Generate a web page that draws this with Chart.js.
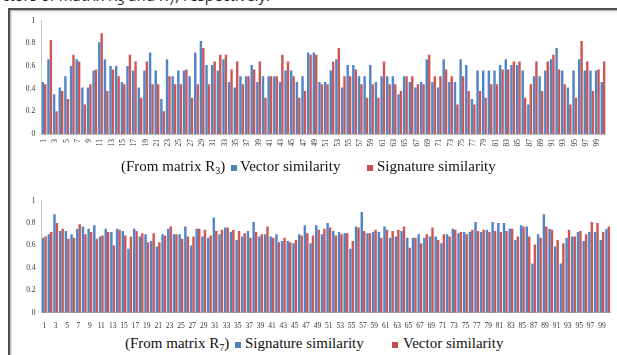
<!DOCTYPE html>
<html><head><meta charset="utf-8">
<script src="https://cdn.jsdelivr.net/npm/chart.js@4.4.0/dist/chart.umd.min.js"></script>
<style>
html,body{margin:0;padding:0;background:#fff;width:617px;height:355px;overflow:hidden;position:relative;}
#cut{position:absolute;left:2px;top:-15px;font:15px 'Open Sans',sans-serif;color:#222;white-space:nowrap;}
#frame{position:absolute;left:8px;top:8px;width:640px;height:400px;border-left:2px solid #4e4e4e;border-top:2px solid #4e4e4e;box-shadow:inset 1px 1px 2px rgba(0,0,0,0.35);background:transparent;}
.cw{position:absolute;left:0;width:617px;}
.lg{position:absolute;font:15px 'Liberation Serif',serif;line-height:15px;color:#111;white-space:nowrap;}
.sq{position:absolute;width:6px;height:6px;}
</style></head>
<body>
<div id="cut">ctors of matrix R<sub>3</sub> and R<sub>7</sub>, respectively.</div>
<div id="frame"></div>
<div class="cw" style="top:10px;height:150px;"><canvas id="c1" width="617" height="150"></canvas></div>
<div class="cw" style="top:185px;height:150px;"><canvas id="c2" width="617" height="150"></canvas></div>

<div class="lg" style="left:121px;top:159px;">(From matrix R<span style="font-size:10px;position:relative;top:3px;">3</span>)</div>
<div class="sq" style="left:231px;top:165px;background:#4f81bd;"></div>
<div class="lg" style="left:240px;top:159px;">Vector similarity</div>
<div class="sq" style="left:367px;top:165px;background:#c0504d;"></div>
<div class="lg" style="left:377px;top:159px;">Signature similarity</div>

<div class="lg" style="left:125px;top:336px;">(From matrix R<span style="font-size:10px;position:relative;top:3px;">7</span>)</div>
<div class="sq" style="left:235px;top:342px;background:#4f81bd;"></div>
<div class="lg" style="left:245px;top:336px;">Signature similarity</div>
<div class="sq" style="left:392px;top:342px;background:#c0504d;"></div>
<div class="lg" style="left:403px;top:336px;">Vector similarity</div>

<script>
const categories = Array.from({length:100}, (_, i) => String(i + 1));
const yTicks = [0, 0.2, 0.4, 0.6, 0.8, 1];

// Top chart (matrix R3)
const r3Vector = [0.46,0.66,0.35,0.41,0.51,0.60,0.66,0.41,0.41,0.56,
 0.81,0.66,0.60,0.60,0.46,0.60,0.56,0.41,0.56,0.72,
 0.56,0.31,0.66,0.51,0.56,0.56,0.51,0.72,0.82,0.61,
 0.61,0.56,0.66,0.46,0.41,0.51,0.51,0.61,0.46,0.51,
 0.51,0.51,0.46,0.56,0.56,0.46,0.51,0.72,0.72,0.46,
 0.46,0.56,0.66,0.41,0.61,0.61,0.51,0.51,0.61,0.46,
 0.51,0.51,0.51,0.35,0.51,0.46,0.41,0.46,0.66,0.46,
 0.41,0.66,0.46,0.46,0.66,0.61,0.31,0.56,0.56,0.56,
 0.56,0.61,0.66,0.61,0.61,0.56,0.26,0.51,0.51,0.56,
 0.66,0.76,0.56,0.41,0.56,0.66,0.56,0.56,0.56,0.46];
const r3Signature = [0.44,0.83,0.20,0.38,0.31,0.70,0.64,0.26,0.44,0.57,
 0.89,0.38,0.57,0.51,0.44,0.70,0.64,0.32,0.64,0.44,
 0.44,0.20,0.51,0.44,0.44,0.57,0.32,0.44,0.76,0.44,
 0.64,0.70,0.70,0.57,0.64,0.44,0.51,0.57,0.64,0.32,
 0.51,0.51,0.70,0.64,0.51,0.32,0.38,0.70,0.70,0.44,
 0.44,0.64,0.76,0.51,0.51,0.57,0.44,0.32,0.44,0.32,
 0.64,0.44,0.44,0.38,0.51,0.51,0.44,0.44,0.70,0.51,
 0.51,0.57,0.51,0.26,0.51,0.38,0.26,0.38,0.32,0.44,
 0.44,0.57,0.57,0.64,0.64,0.32,0.44,0.64,0.38,0.64,
 0.70,0.57,0.44,0.26,0.32,0.82,0.64,0.38,0.57,0.64];

// Bottom chart (matrix R7)
const r7Signature = [0.67,0.70,0.88,0.73,0.73,0.70,0.75,0.77,0.75,0.78,
 0.68,0.75,0.72,0.75,0.73,0.57,0.75,0.68,0.70,0.64,
 0.59,0.70,0.75,0.70,0.70,0.77,0.60,0.75,0.68,0.67,
 0.85,0.70,0.76,0.72,0.65,0.68,0.73,0.81,0.68,0.70,
 0.68,0.70,0.64,0.64,0.62,0.70,0.78,0.62,0.78,0.70,
 0.80,0.73,0.72,0.71,0.57,0.77,0.90,0.71,0.72,0.72,
 0.77,0.67,0.68,0.73,0.67,0.67,0.70,0.67,0.68,0.68,
 0.62,0.70,0.75,0.71,0.72,0.72,0.81,0.72,0.74,0.81,
 0.80,0.80,0.75,0.65,0.78,0.77,0.44,0.70,0.88,0.75,
 0.59,0.44,0.67,0.68,0.72,0.64,0.72,0.72,0.65,0.75];
const r7Vector = [0.68,0.72,0.80,0.75,0.66,0.67,0.79,0.70,0.72,0.66,
 0.69,0.72,0.60,0.74,0.69,0.68,0.73,0.71,0.63,0.71,
 0.63,0.69,0.77,0.70,0.66,0.68,0.68,0.75,0.74,0.69,
 0.73,0.74,0.76,0.74,0.73,0.71,0.67,0.72,0.70,0.77,
 0.67,0.63,0.67,0.63,0.65,0.69,0.71,0.69,0.74,0.75,
 0.76,0.69,0.70,0.71,0.64,0.76,0.73,0.71,0.74,0.67,
 0.74,0.73,0.74,0.77,0.58,0.67,0.62,0.70,0.76,0.65,
 0.70,0.68,0.74,0.72,0.70,0.74,0.73,0.74,0.72,0.73,
 0.72,0.73,0.75,0.68,0.77,0.68,0.61,0.67,0.77,0.74,
 0.65,0.62,0.74,0.68,0.73,0.70,0.81,0.80,0.72,0.77];

const BLUE = '#5285c5', RED = '#cd5753';
const tickFont = {family: "'Liberation Serif', serif", size: 7.5};

function makeChart(id, blueData, blueName, redData, redName, cfg) {
  new Chart(document.getElementById(id), {
    type: 'bar',
    data: {
      labels: categories,
      datasets: [
        {label: blueName, data: blueData, backgroundColor: BLUE, borderWidth: 0, categoryPercentage: 0.86, barPercentage: 1.0},
        {label: redName, data: redData, backgroundColor: RED, borderWidth: 0, categoryPercentage: 0.86, barPercentage: 1.0}
      ]
    },
    options: {
      responsive: false,
      animation: false,
      devicePixelRatio: 1,
      layout: {padding: {left: 0, right: cfg.padRight, top: cfg.padTop, bottom: 0}},
      plugins: {legend: {display: false}, tooltip: {enabled: false}},
      scales: {
        x: {
          grid: {display: false, drawTicks: false},
          border: {display: true, color: '#bfbfbf', width: 1},
          ticks: {
            autoSkip: false, maxRotation: cfg.rot, minRotation: cfg.rot,
            padding: cfg.xPad, color: '#333', font: tickFont,
            callback: (v, i) => (i % 2 === 0 ? categories[i] : '')
          },
          afterFit: s => { s.height = cfg.xHeight; }
        },
        y: {
          min: 0, max: 1,
          afterBuildTicks: s => { s.ticks = yTicks.map(v => ({value: v})); },
          grid: {display: false, drawTicks: false},
          border: {display: true, color: '#c8c8c8', width: 1},
          ticks: {padding: 6, color: '#333', font: tickFont,
            callback: v => String(Math.round(v * 10) / 10)},
          afterFit: s => { s.width = cfg.yWidth; }
        }
      }
    }
  });
}

makeChart('c1', r3Vector, 'Vector similarity', r3Signature, 'Signature similarity',
  {padRight: 2, padTop: 10.7, xHeight: 26, yWidth: 41.2, rot: 90, xPad: 5});
makeChart('c2', r7Signature, 'Signature similarity', r7Vector, 'Vector similarity',
  {padRight: 6.5, padTop: 15.7, xHeight: 22.3, yWidth: 41.5, rot: 0, xPad: 9});
</script>
</body></html>
